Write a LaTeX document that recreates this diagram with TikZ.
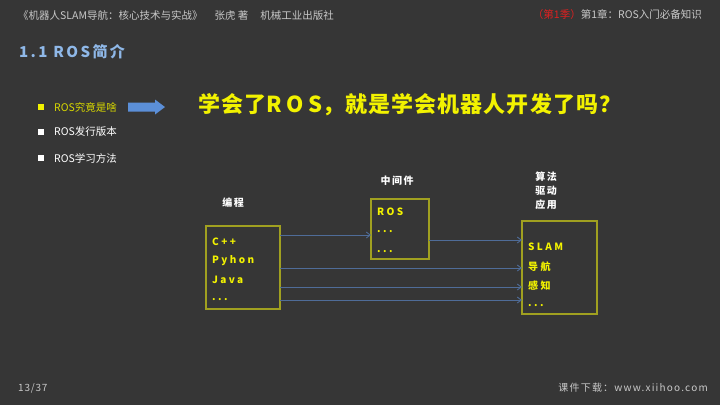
\documentclass[tikz,border=0pt]{standalone}
\usepackage{fontspec}
\setmainfont{Noto Sans CJK SC}
\usetikzlibrary{arrows.meta}
\definecolor{bg}{HTML}{363636}
\definecolor{hdr}{HTML}{C8C8C8}
\definecolor{ttl}{HTML}{8FB8E8}
\definecolor{ylw}{HTML}{F2F200}
\definecolor{ylwd}{HTML}{D8D800}
\definecolor{boxc}{HTML}{A0A020}
\definecolor{arr}{HTML}{4F6C98}
\definecolor{barrow}{HTML}{5B8FD8}
\definecolor{redh}{HTML}{E02020}
\tikzset{
  hdrtext/.style={text=hdr,font=\fontsize{10.5}{12}\selectfont,inner sep=0pt},
  bullettext/.style={font=\fontsize{10.5}{12}\selectfont,inner sep=0pt,anchor=west},
  sq/.style={minimum size=6pt,inner sep=0pt},
  lbl/.style={text=white,font=\fontsize{10}{12}\selectfont\bfseries\addfontfeatures{LetterSpace=15},inner sep=0pt},
  item/.style={text=ylw,font=\fontsize{10}{11}\selectfont\bfseries\addfontfeatures{LetterSpace=24},inner sep=0pt,anchor=west},
  cbox/.style={draw=boxc,line width=1.2pt},
  link/.style={draw=arr,line width=0.9pt,-{Straight Barb[length=4pt,width=6pt]}}
}
\begin{document}
\begin{tikzpicture}[x=1pt,y=-1pt]
\fill[bg] (0,0) rectangle (720,405);
\useasboundingbox (0,0) rectangle (720,405);
% header
\node[hdrtext,anchor=west] (h1) at (18,15) {《机器人SLAM导航：核心技术与实战》\hspace{12pt}张虎 著\hspace{12pt}机械工业出版社};
\node[hdrtext,anchor=east] (h2) at (702,15) {\textcolor{redh}{（第1季）}第1章：ROS入门必备知识};
% title
\node[text=ttl,font=\fontsize{15}{17}\selectfont\bfseries\addfontfeatures{LetterSpace=16},anchor=west,inner sep=0pt] (t) at (19,52) {1.1 ROS简介};
% bullets
\node[sq,fill=ylw] (b1) at (41,107) {};
\node[bullettext,text=ylwd] (bt1) at (54,107) {ROS究竟是啥};
\node[sq,fill=white] (b2) at (41,132) {};
\node[bullettext,text=white] (bt2) at (54,132) {ROS发行版本};
\node[sq,fill=white] (b3) at (41,158) {};
\node[bullettext,text=white] (bt3) at (54,158) {ROS学习方法};
% blue block arrow
\fill[barrow] (128,102.5) -- (155,102.5) -- (155,99.5) -- (165,107) -- (155,114.5) -- (155,111.5) -- (128,111.5) -- cycle;
% big question
\node[text=ylw,font=\fontsize{22}{24}\selectfont\bfseries\addfontfeatures{LetterSpace=5},anchor=west,inner sep=0pt] (q) at (198,105) {学会了{\addfontfeatures{LetterSpace=20}ROS}，就是学会机器人开发了吗？};
% labels
\node[lbl] (l1) at (233,203) {编程};
\node[lbl] (l2) at (397,181) {中间件};
\node[lbl,align=center,font=\fontsize{10}{14}\selectfont\bfseries\addfontfeatures{LetterSpace=15}] (l3) at (546,191) {算法\\驱动\\应用};
% boxes
\draw[cbox] (206,226) rectangle (280,309);
\draw[cbox] (371,199) rectangle (429,259);
\draw[cbox] (522,221) rectangle (597,314);
% box texts
\node[item] (c1) at (212,242) {C++};
\node[item] (c2) at (212,261) {Pyhon};
\node[item] (c3) at (212,280) {Java};
\node[item] (c4) at (212,300) {...};
\node[item] (r1) at (377,212) {ROS};
\node[item] (r2) at (377,232) {...};
\node[item] (r3) at (377,252) {...};
\node[item] (s1) at (528,247) {SLAM};
\node[item] (s2) at (528,267) {导航};
\node[item] (s3) at (528,286) {感知};
\node[item] (s4) at (528,306) {...};
% connectors
\coordinate (a1s) at (280,235); \coordinate (a1e) at (371,235);
\coordinate (a2s) at (429,240); \coordinate (a2e) at (522,240);
\coordinate (a3s) at (280,268); \coordinate (a3e) at (522,268);
\coordinate (a4s) at (280,287); \coordinate (a4e) at (522,287);
\coordinate (a5s) at (280,300); \coordinate (a5e) at (522,300);
\draw[link] (a1s) -- (a1e);
\draw[link] (a2s) -- (a2e);
\draw[link] (a3s) -- (a3e);
\draw[link] (a4s) -- (a4e);
\draw[link] (a5s) -- (a5e);
% footer
\node[hdrtext,anchor=west,font=\fontsize{10}{12}\selectfont\addfontfeatures{LetterSpace=8}] (f1) at (18,388) {13/37};
\node[hdrtext,anchor=east,font=\fontsize{10}{12}\selectfont\addfontfeatures{LetterSpace=12}] (f2) at (708,388) {课件下载：www.xiihoo.com};
\end{tikzpicture}
\end{document}
